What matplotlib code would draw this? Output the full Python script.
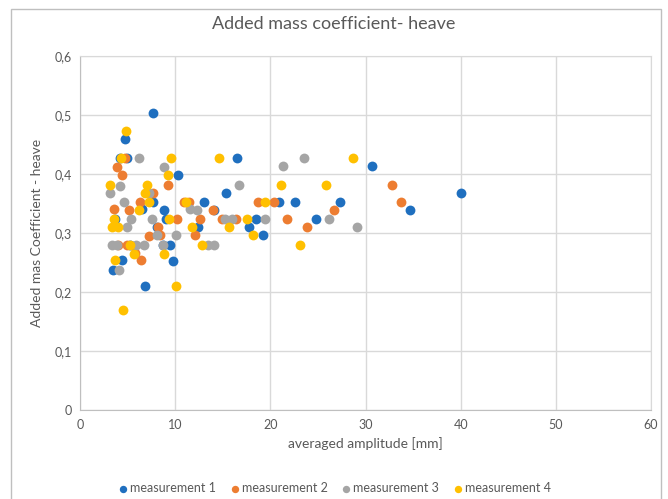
import matplotlib.pyplot as plt
from matplotlib.patches import Rectangle
from matplotlib.ticker import FuncFormatter, MultipleLocator

m1_x = [7.7, 4.7, 4.2, 4.9, 10.3, 16.5, 15.3, 30.7, 40.0, 34.7, 27.3, 22.6, 20.9,
        14.1, 24.8, 18.5, 19.2, 17.8, 13.0, 12.4, 9.0, 8.8, 6.5, 7.7, 3.7, 5.3,
        9.5, 9.8, 8.7, 6.8, 3.5, 4.4, 8.1]
m1_y = [0.503, 0.459, 0.427, 0.427, 0.398, 0.427, 0.367, 0.413, 0.368, 0.339, 0.353,
        0.353, 0.353, 0.339, 0.323, 0.323, 0.297, 0.31, 0.353, 0.31, 0.323, 0.339,
        0.34, 0.353, 0.323, 0.28, 0.28, 0.253, 0.28, 0.21, 0.238, 0.255, 0.31]

m2_x = [3.9, 4.4, 4.7, 9.2, 32.8, 33.7, 26.7, 23.8, 21.8, 20.4, 18.7, 14.0, 12.1,
        10.9, 7.7, 6.3, 5.1, 8.2, 8.4, 4.0, 4.9, 5.8, 6.4, 10.2, 12.6, 14.9, 16.4,
        3.6, 11.5, 7.3]
m2_y = [0.411, 0.398, 0.427, 0.381, 0.381, 0.353, 0.339, 0.31, 0.323, 0.353, 0.353,
        0.339, 0.297, 0.353, 0.368, 0.353, 0.339, 0.31, 0.297, 0.28, 0.28, 0.267,
        0.255, 0.323, 0.323, 0.323, 0.323, 0.34, 0.353, 0.295]

m3_x = [6.2, 8.8, 3.2, 4.2, 16.7, 21.3, 23.5, 29.1, 26.2, 19.4, 16.0, 14.1, 13.4,
        11.6, 10.1, 7.6, 3.4, 3.9, 4.1, 5.9, 6.7, 4.6, 5.4, 8.1, 8.7, 12.3, 15.2,
        7.2, 4.9]
m3_y = [0.427, 0.411, 0.367, 0.38, 0.381, 0.413, 0.427, 0.31, 0.323, 0.323, 0.323,
        0.28, 0.28, 0.34, 0.297, 0.323, 0.28, 0.28, 0.238, 0.28, 0.28, 0.353, 0.323,
        0.297, 0.28, 0.339, 0.323, 0.367, 0.31]

m4_x = [4.8, 4.3, 7.0, 9.6, 14.6, 28.7, 25.8, 21.1, 23.1, 19.4, 12.8, 11.1, 8.8,
        10.1, 4.5, 3.2, 3.7, 3.4, 9.2, 5.2, 6.2, 7.3, 9.4, 11.8, 15.7, 17.5, 18.2,
        4.0, 5.7, 6.8, 3.6]
m4_y = [0.473, 0.427, 0.381, 0.427, 0.427, 0.427, 0.381, 0.381, 0.28, 0.353, 0.28,
        0.353, 0.265, 0.21, 0.17, 0.381, 0.255, 0.31, 0.398, 0.28, 0.339, 0.353,
        0.323, 0.31, 0.31, 0.323, 0.297, 0.31, 0.265, 0.367, 0.323]

series = [
    ('measurement 1', m1_x, m1_y, '#1F6FBF'),
    ('measurement 2', m2_x, m2_y, '#ED7D31'),
    ('measurement 3', m3_x, m3_y, '#A5A5A5'),
    ('measurement 4', m4_x, m4_y, '#FFC000'),
]

plt.rcParams['font.family'] = ['Lato', 'DejaVu Sans']
text_col = '#595959'

fig = plt.figure(figsize=(6.68, 4.99), dpi=100)
ax = fig.add_axes([0.1198, 0.178, 0.8548, 0.710])

for name, xs, ys, col in series:
    ax.scatter(xs, ys, s=50, color=col, label=name, zorder=3, linewidths=0)

ax.set_xlim(0, 60)
ax.set_ylim(0, 0.6)
ax.xaxis.set_major_locator(MultipleLocator(10))
ax.yaxis.set_major_locator(MultipleLocator(0.1))
ax.yaxis.set_major_formatter(FuncFormatter(
    lambda v, p: '0' if abs(v) < 1e-9 else ('%.1f' % v).replace('.', ',')))
ax.grid(True, color='#D9D9D9', linewidth=1, zorder=0)
for sp in ax.spines.values():
    sp.set_color('#D9D9D9')
ax.spines['left'].set_color('#BFBFBF')
ax.spines['bottom'].set_color('#BFBFBF')
ax.tick_params(length=0, labelsize=9, colors=text_col, pad=6)

ax.set_xlabel('averaged amplitude [mm]', fontsize=10, color=text_col, labelpad=5)
ax.set_ylabel('Added mas Coefficient - heave', fontsize=10, color=text_col, labelpad=8)
fig.text(0.5, 0.952, 'Added mass coefficient- heave', ha='center', va='center',
         fontsize=13, color=text_col)

ax.legend(loc='center', bbox_to_anchor=(0.5, 0.022), bbox_transform=fig.transFigure,
          ncol=4, frameon=False, fontsize=9, labelcolor=text_col, handletextpad=0.05,
          columnspacing=1.0, markerscale=0.75, handlelength=1.0)

# thin frame around the whole chart
fig.patches.append(Rectangle((0.016, -0.01), 0.974, 0.992, transform=fig.transFigure,
                             fill=False, edgecolor='#BFBFBF', linewidth=1))

fig.savefig('out.png', dpi=100)
